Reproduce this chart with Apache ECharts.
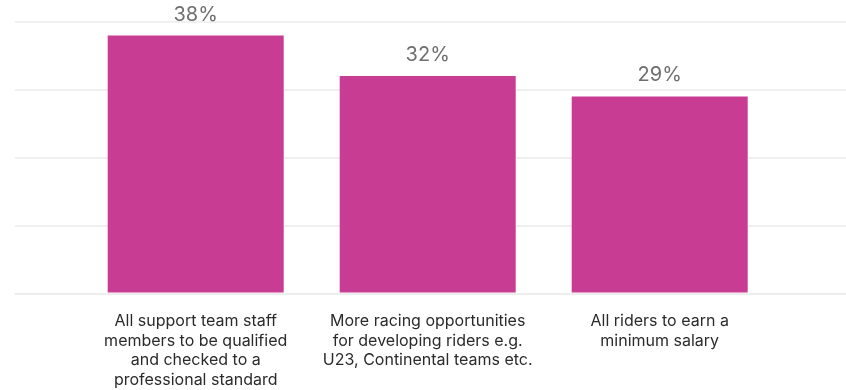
<!DOCTYPE html>
<html>
<head>
<meta charset="utf-8">
<script src="https://cdn.jsdelivr.net/npm/echarts@6/dist/echarts.min.js"></script>
<style>
  html, body { margin: 0; padding: 0; background: #ffffff; }
  #chart { width: 846px; height: 390px; }
</style>
</head>
<body>
<div id="chart"></div>
<script>
// Survey responses: share choosing each proposal
const categories = [
  'All support team staff\nmembers to be qualified\nand checked to a\nprofessional standard',
  'More racing opportunities\nfor developing riders e.g.\nU23, Continental teams etc.',
  'All riders to earn a\nminimum salary'
];
const values = [38, 32, 29];
const axisMin = 0;
const axisMax = 40;
const axisInterval = 10;

const chart = echarts.init(document.getElementById('chart'));
const plotTop = 22, plotBottom = 96;
const font = 'Inter, "Liberation Sans", sans-serif';

chart.setOption({
  animation: false,
  grid: [
    // full-width grid carrying the horizontal gridlines
    { left: 15, right: 0, top: plotTop, bottom: plotBottom },
    // narrower grid holding the bars
    { left: 79.7, width: 696, top: plotTop, bottom: plotBottom }
  ],
  xAxis: [
    {
      gridIndex: 0, type: 'category', data: [''],
      axisLine: { show: true, lineStyle: { color: '#ebebeb', width: 1.5 } },
      axisTick: { show: false }, axisLabel: { show: false }
    },
    {
      gridIndex: 1, type: 'category', data: categories,
      axisLine: { show: false }, axisTick: { show: false },
      axisLabel: {
        interval: 0, margin: 19, color: '#2b2b2b', fontFamily: font,
        fontSize: 16, lineHeight: 19.6, align: 'center'
      }
    }
  ],
  yAxis: [
    {
      gridIndex: 0, type: 'value', min: axisMin, max: axisMax, interval: axisInterval,
      axisLine: { show: false }, axisTick: { show: false }, axisLabel: { show: false },
      splitLine: { show: true, lineStyle: { color: '#ebebeb', width: 1.5 } }
    },
    {
      gridIndex: 1, type: 'value', min: axisMin, max: axisMax, interval: axisInterval,
      axisLine: { show: false }, axisTick: { show: false }, axisLabel: { show: false },
      splitLine: { show: false }
    }
  ],
  series: [{
    type: 'bar',
    xAxisIndex: 1, yAxisIndex: 1,
    data: values,
    barWidth: 176,
    itemStyle: { color: '#c83d93' },
    label: {
      show: true, position: 'top', distance: 11,
      formatter: '{c}%', color: '#6e6e6e', fontFamily: font, fontSize: 20
    }
  }]
});
</script>
</body>
</html>
